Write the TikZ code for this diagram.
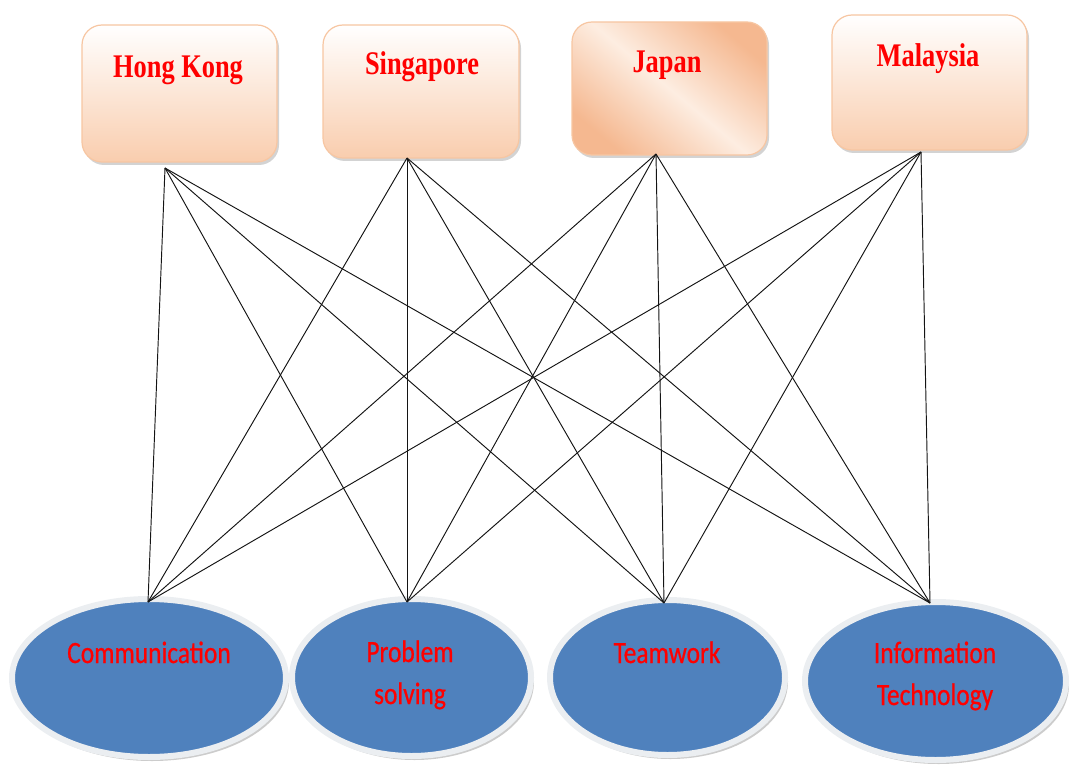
\documentclass[tikz,border=0pt]{standalone}
\usepackage{fontspec}
\usetikzlibrary{shapes.geometric,shadows}
\newfontfamily\boxfont[FakeStretch=0.8]{Liberation Serif}
\newfontfamily\ovalfont[FakeStretch=0.82,FakeBold=0.6]{Carlito}
\definecolor{peach}{HTML}{F9CDAE}
\definecolor{peachedge}{HTML}{F7C6A2}
\definecolor{jpdark}{HTML}{F5B890}
\definecolor{jplight}{HTML}{FDEDE1}
\definecolor{ovalblue}{HTML}{4F81BD}
\definecolor{ovalring}{HTML}{EBEEF1}
\definecolor{labelred}{HTML}{FF0000}
\definecolor{linkgray}{HTML}{141414}
\begin{document}
\begin{tikzpicture}[x=1pt,y=-1pt,
  country/.style={rectangle, rounded corners=20pt, draw=peachedge, line width=1.2pt,
    inner sep=0pt, top color=white, bottom color=peach,
    drop shadow={shadow xshift=2pt, shadow yshift=-3pt, opacity=0.35}},
  countrytext/.style={anchor=base, inner sep=0pt, text=labelred,
    font=\boxfont\bfseries\fontsize{33}{40}\selectfont},
  skill/.style={ellipse, inner sep=0pt, fill=ovalblue, draw=ovalring, line width=6pt,
    drop shadow={shadow xshift=3pt, shadow yshift=-4pt, opacity=0.4}},
  skilltext/.style={anchor=base, inner sep=0pt, text=labelred,
    font=\ovalfont\fontsize{31}{42}\selectfont},
  link/.style={draw=linkgray, line width=0.95pt}]

\useasboundingbox (0,0) rectangle (1070,767);

% countries
\node[country, minimum width=195, minimum height=137] (hk) at (179.5,93.5) {};
\node[country, minimum width=196, minimum height=133] (sg) at (421,91.5) {};
\node[country, minimum width=195, minimum height=133, top color=jpdark, bottom color=jpdark,
  middle color=jplight, shading angle=-40] (jp) at (669.5,88.5) {};
\node[country, minimum width=195, minimum height=135] (my) at (929.5,82.5) {};

\node[countrytext] (hk-t) at (178,78) {Hong Kong};
\node[countrytext] (sg-t) at (422,75) {Singapore};
\node[countrytext] (jp-t) at (667,73) {Japan};
\node[countrytext] (my-t) at (928,67) {Malaysia};

% skills
\node[skill, minimum width=274, minimum height=158] (com) at (149,678) {};
\node[skill, minimum width=239, minimum height=157] (ps) at (411.5,677.5) {};
\node[skill, minimum width=235, minimum height=155] (tw) at (667.5,677.5) {};
\node[skill, minimum width=261, minimum height=158] (it) at (935.5,681) {};

\node[skilltext] (com-t) at (149,663) {Communication};
\node[skilltext] (ps-t) at (410,662) {\begin{tabular}[t]{@{}c@{}}Problem\\solving\end{tabular}};
\node[skilltext] (tw-t) at (667,663) {Teamwork};
\node[skilltext] (it-t) at (935,663) {\begin{tabular}[t]{@{}c@{}}Information\\Technology\end{tabular}};

% link ends
\coordinate (hk-o) at (165,168);
\coordinate (sg-o) at (407,158);
\coordinate (jp-o) at (656,154);
\coordinate (my-o) at (921,152);
\coordinate (com-i) at (148,602);
\coordinate (ps-i) at (407,602);
\coordinate (tw-i) at (664,603);
\coordinate (it-i) at (930,603);

% every country is linked to every skill
\foreach \c in {hk,sg,jp,my}
  \foreach \s in {com,ps,tw,it}
    \draw[link] (\c-o) -- (\s-i);
\end{tikzpicture}
\end{document}
